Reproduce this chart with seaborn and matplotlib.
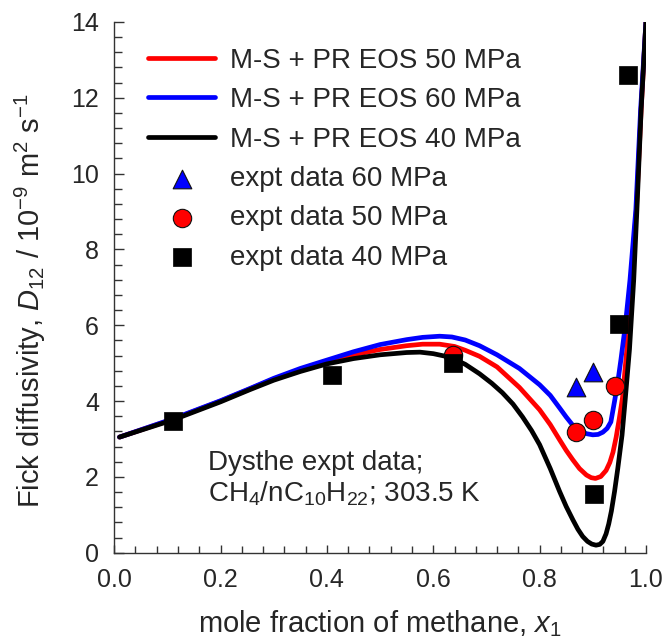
import numpy as np
import pandas as pd
import matplotlib
matplotlib.use("Agg")
import matplotlib.pyplot as plt
from matplotlib.ticker import MultipleLocator
import seaborn as sns

# ---- data ----
x_50 = [0.01, 0.11, 0.20, 0.255, 0.30, 0.35, 0.393, 0.45, 0.50, 0.55, 0.58, 0.612, 0.64, 0.66,
        0.687, 0.72, 0.762, 0.80, 0.82, 0.8375, 0.85, 0.8625, 0.875, 0.888, 0.897, 0.905,
        0.915, 0.925, 0.932, 0.938, 0.944, 0.950, 0.956, 0.964, 0.972, 0.982, 0.991, 1.0]
y_50 = [3.05, 3.52, 4.00, 4.32, 4.58, 4.83, 5.03, 5.22, 5.36, 5.46, 5.50, 5.50, 5.44, 5.34,
        5.18, 4.90, 4.36, 3.77, 3.38, 2.98, 2.70, 2.45, 2.22, 2.05, 1.98, 1.96,
        2.01, 2.17, 2.38, 2.65, 3.05, 3.55, 4.10, 5.36, 7.20, 9.05, 11.7, 14.0]

x_60 = [0.01, 0.11, 0.20, 0.255, 0.30, 0.35, 0.393, 0.45, 0.50, 0.55, 0.58, 0.612, 0.635, 0.66,
        0.687, 0.72, 0.762, 0.80, 0.82, 0.8375, 0.85, 0.8625, 0.875, 0.888, 0.90, 0.91,
        0.919, 0.927, 0.934, 0.941, 0.947, 0.953, 0.961, 0.970, 0.981, 0.990, 1.0]
y_60 = [3.05, 3.53, 4.01, 4.33, 4.60, 4.86, 5.05, 5.30, 5.49, 5.62, 5.68, 5.71, 5.69, 5.61,
        5.46, 5.22, 4.86, 4.43, 4.15, 3.82, 3.58, 3.36, 3.22, 3.14, 3.11, 3.12,
        3.18, 3.28, 3.45, 4.00, 4.50, 5.10, 5.97, 7.20, 9.05, 11.7, 14.0]

x_40 = [0.01, 0.11, 0.20, 0.255, 0.30, 0.35, 0.40, 0.45, 0.50, 0.55, 0.575, 0.60, 0.62, 0.64,
        0.66, 0.687, 0.71, 0.73, 0.75, 0.768, 0.785, 0.80, 0.82, 0.8375, 0.85, 0.8625, 0.872,
        0.881, 0.89, 0.898, 0.906, 0.913, 0.919, 0.925, 0.930, 0.935, 0.941, 0.947, 0.955,
        0.961, 0.969, 0.977, 0.983, 0.991, 1.0]
y_40 = [3.05, 3.50, 3.98, 4.30, 4.55, 4.78, 4.98, 5.12, 5.22, 5.28, 5.29, 5.25, 5.19, 5.10,
        4.97, 4.72, 4.47, 4.22, 3.92, 3.58, 3.22, 2.85, 2.22, 1.62, 1.22, 0.87, 0.62,
        0.43, 0.30, 0.23, 0.20, 0.22, 0.30, 0.50, 0.76, 1.10, 1.62, 2.22, 3.10,
        4.04, 5.36, 7.20, 9.05, 11.7, 14.0]

ex_60 = [0.869, 0.901]
ey_60 = [4.37, 4.77]
ex_50 = [0.638, 0.869, 0.901, 0.941]
ey_50 = [5.22, 3.19, 3.51, 4.41]
ex_40 = [0.111, 0.41, 0.638, 0.903, 0.950, 0.967]
ey_40 = [3.48, 4.70, 5.01, 1.56, 6.02, 12.59]

xticks = [0.0, 0.2, 0.4, 0.6, 0.8, 1.0]
xticklabels = ["0.0", "0.2", "0.4", "0.6", "0.8", "1.0"]
yticks = [0, 2, 4, 6, 8, 10, 12, 14]

# ---- styling ----
sns.set_theme(style="ticks")
plt.rcParams["font.family"] = ["Liberation Sans", "DejaVu Sans"]
plt.rcParams["mathtext.fontset"] = "custom"
plt.rcParams["mathtext.rm"] = "Liberation Sans"
plt.rcParams["mathtext.it"] = "Liberation Sans:italic"
plt.rcParams["mathtext.bf"] = "Liberation Sans:bold"

fig = plt.figure(figsize=(6.68, 6.42), dpi=100)
ax = fig.add_axes([0.171, 0.139, 0.796, 0.827])

lw = 3.4
sns.lineplot(x=x_50, y=y_50, ax=ax, color="#FF0000", lw=lw, label="M-S + PR EOS 50 MPa",
             estimator=None, sort=False)
sns.lineplot(x=x_60, y=y_60, ax=ax, color="#0000FF", lw=lw, label="M-S + PR EOS 60 MPa",
             estimator=None, sort=False)
sns.lineplot(x=x_40, y=y_40, ax=ax, color="black", lw=lw, label="M-S + PR EOS 40 MPa",
             estimator=None, sort=False)
for ln in ax.lines:
    ln.set_solid_joinstyle("round")
    ln.set_solid_capstyle("round")

sns.scatterplot(x=ex_60, y=ey_60, ax=ax, marker="^", s=180, color="#0000FF",
                edgecolor="#111111", linewidth=0.8, label="expt data 60 MPa", zorder=4)
sns.scatterplot(x=ex_50, y=ey_50, ax=ax, marker="o", s=175, color="#FF0000",
                edgecolor="#111111", linewidth=0.8, label="expt data 50 MPa", zorder=5)
sns.scatterplot(x=ex_40, y=ey_40, ax=ax, marker="s", s=150, color="black",
                edgecolor="black", linewidth=0.5, label="expt data 40 MPa", zorder=6)

ax.set_xlim(0, 1.0)
ax.set_ylim(0, 14)
ax.set_xticks(xticks)
ax.set_xticklabels(xticklabels)
ax.set_yticks(yticks)
ax.xaxis.set_minor_locator(MultipleLocator(0.04))
ax.yaxis.set_minor_locator(MultipleLocator(0.4))
ax.tick_params(axis="x", which="major", direction="in", length=5.5, width=1,
               color="#333333", labelsize=18, pad=11)
ax.tick_params(axis="x", which="minor", direction="in", length=5, width=1, color="#333333")
ax.tick_params(axis="y", which="major", direction="in", length=7, width=1,
               color="#333333", labelsize=18, pad=11)
ax.tick_params(axis="y", which="minor", direction="in", length=6, width=1, color="#333333")

for side in ["top", "right"]:
    ax.spines[side].set_visible(False)
for side in ["left", "bottom"]:
    ax.spines[side].set_color("#333333")
    ax.spines[side].set_linewidth(1.0)

ax.set_xlabel(r"mole fraction of methane, $\mathit{x}_1$", fontsize=21)
ax.set_ylabel(r"Fick diffusivity, $\mathit{D}_{12}$ / 10$^{-9}$ m$^2$ s$^{-1}$",
              fontsize=21)
ax.xaxis.set_label_coords(0.5, -0.104)
ax.yaxis.set_label_coords(-0.124, 0.475)

ax.text(0.177, 2.19, "Dysthe expt data;", fontsize=20, va="baseline", ha="left")
ax.text(0.177, 1.35, "CH$_4$/nC$_{10}$H$_{22}$; 303.5 K", fontsize=20,
        va="baseline", ha="left")

leg = ax.legend(loc="upper left", bbox_to_anchor=(0.064, 0.951), frameon=False,
                fontsize=20, handlelength=2.4, handletextpad=0.54, labelspacing=0.48,
                borderaxespad=0, borderpad=0)

fig.savefig("out.png", dpi=100)
